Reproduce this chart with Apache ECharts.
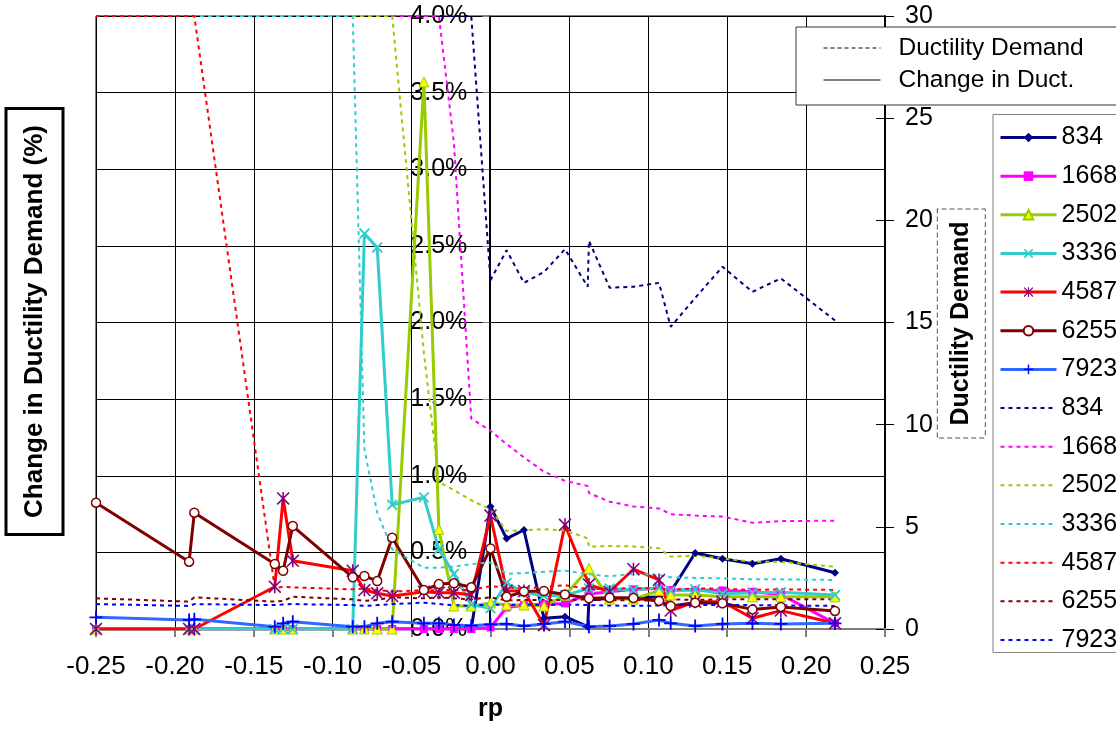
<!DOCTYPE html>
<html><head><meta charset="utf-8">
<script src="https://cdn.jsdelivr.net/npm/echarts@6/dist/echarts.min.js"></script>
<style>html,body{margin:0;padding:0;background:#fff}#c{width:1116px;height:731px}</style>
</head><body><div id="c"></div>
<script>
// rp values (shared x grid)
const rp = [-0.25,-0.191,-0.1877,-0.1367,-0.1314,-0.1253,-0.0873,-0.0799,-0.0718,-0.0623,
  -0.0422,-0.0327,-0.0232,-0.0122,0,0.0102,0.0212,0.0339,0.0472,0.0616,
  0.0624,0.0755,0.0906,0.1068,0.1142,0.1297,0.147,0.166,0.184,0.2183];

// Change in ductility demand (%), left axis
const chg834  = [0,0,0,0,0,0,0,0,0,0,0,0,0,0,0.80,0.59,0.646,0.07,0.08,0.015,0.19,0.2,0.2,0.211,0.243,0.496,0.458,0.426,0.458,0.367];
const chg1668 = [0,0,0,0,0,0,0,0,0,0,0,0,0,0,0.01,0.14,0.155,0.162,0.167,null,0.228,0.243,0.259,0.265,0.254,0.254,0.252,0.243,0.225,0.037];
const chg2502 = [0,0,0,0,0,0,0,0,0,0,3.57,0.65,0.15,0.15,0.17,0.157,0.157,0.15,0.22,null,0.395,0.195,0.195,0.25,0.222,0.222,0.21,0.21,0.21,0.21];
const chg3336 = [0,0,0,0,0,0,0,2.58,2.49,0.81,0.86,0.52,0.36,0.16,0.135,0.3,0.24,0.215,0.22,null,0.265,0.265,0.254,0.27,0.25,0.26,0.23,0.237,0.24,0.222];
const chg4587 = [0,0,0,0.276,0.852,0.445,0.38,0.254,0.233,0.215,0.243,0.237,0.237,0.222,0.74,0.25,0.248,0.025,0.68,null,0.29,0.243,0.39,0.32,0.12,0.178,0.178,0.07,0.12,0.037];
const chg6255 = [0.824,0.439,0.759,0.424,0.38,0.672,0.337,0.346,0.313,0.596,0.254,0.293,0.298,0.272,0.526,0.21,0.245,0.248,0.225,null,0.2,0.204,0.202,0.183,0.15,0.172,0.168,0.128,0.144,0.118];
const chg7923 = [0.076,0.059,0.063,0.015,0.037,0.048,0.015,0.015,0.037,0.048,0.037,0.037,0.026,0.022,0.03,0.033,0.02,0.033,0.048,null,0.015,0.02,0.033,0.059,0.037,0.02,0.033,0.037,0.033,0.037];

// Ductility demand, right axis
const dd834  = [30,30,30,30,30,30,30,30,30,30,30,30,30,30,17.07,18.54,16.94,17.47,18.59,16.75,19.0,16.7,16.75,16.94,14.79,16.2,17.73,16.5,17.16,15.1];
const dd1668 = [30,30,30,30,30,30,30,30,30,30,30,30,23.8,10.3,9.7,9.05,8.4,7.7,7.25,7.0,6.65,6.23,6.0,5.9,5.62,5.55,5.5,5.2,5.28,5.3];
const dd2502 = [30,30,30,30,30,30,30,30,30,30,13.5,7.2,6.8,6.3,5.85,4.8,4.84,4.88,4.82,4.44,4.03,4.06,4.04,3.95,3.54,3.58,3.45,3.29,3.29,3.05];
const dd3336 = [30,30,30,30,30,30,30,8.8,5.7,3.9,3.0,3.0,3.05,3.18,3.25,2.7,2.74,2.8,2.86,null,2.68,2.58,2.7,2.64,2.53,2.5,2.48,2.43,2.43,2.4];
const dd4587 = [30,30,30,2.0,2.07,2.04,1.94,1.97,1.91,1.83,1.9,1.9,1.91,1.91,2.1,2.02,2.0,2.05,2.15,null,1.94,1.97,2.0,1.99,1.91,1.99,1.97,1.91,1.94,1.91];
const dd6255 = [1.5,1.34,1.55,1.34,1.38,1.58,1.45,1.38,1.42,1.55,1.5,1.55,1.5,1.45,1.55,1.4,1.42,1.42,1.42,null,1.45,1.4,1.42,1.37,1.45,1.42,1.45,1.45,1.45,1.45];
const dd7923 = [1.22,1.13,1.22,1.17,1.2,1.22,1.17,1.13,1.17,1.22,1.29,1.22,1.17,1.13,1.2,1.17,1.2,1.17,1.2,null,1.17,1.15,1.13,1.15,1.17,1.17,1.17,1.17,1.15,1.13];

const seriesNames = ['834','1668','2502','3336','4587','6255','7923'];
const leftTicks = {min:0, max:4, interval:0.5};
const rightTicks = {min:0, max:30, interval:5};

const FONT = "'Liberation Sans', Arial, sans-serif";
const pairs = ys => rp.map((x,i)=>[x, ys[i]]).filter(p => p[1] !== null);

const X_PATH = 'path://M0,1.2L1.2,0L5,3.8L8.8,0L10,1.2L6.2,5L10,8.8L8.8,10L5,6.2L1.2,10L0,8.8L3.8,5Z';
const STAR_PATH = 'path://M4.4,0L5.6,0L5.6,10L4.4,10Z M0,0.85L0.85,0L10,9.15L9.15,10Z M9.15,0L10,0.85L0.85,10L0,9.15Z';
const PLUS_PATH = 'path://M4.3,0L5.7,0L5.7,4.3L10,4.3L10,5.7L5.7,5.7L5.7,10L4.3,10L4.3,5.7L0,5.7L0,4.3L4.3,4.3Z';

const solidDefs = [
  {data: chg834,  line:'#000080', symbol:'diamond', size:8,  item:{color:'#000080'}},
  {data: chg1668, line:'#FF00FF', symbol:'rect',    size:8,  item:{color:'#FF00FF'}},
  {data: chg2502, line:'#99CC00', symbol:'triangle',size:10, item:{color:'#FFFF00', borderColor:'#99CC00', borderWidth:1}},
  {data: chg3336, line:'#33CCCC', symbol:X_PATH,    size:11, item:{color:'#33CCCC'}},
  {data: chg4587, line:'#FF0000', symbol:STAR_PATH, size:13, item:{color:'#800080'}},
  {data: chg6255, line:'#800000', symbol:'circle',  size:9,  item:{color:'#FFFFFF', borderColor:'#800000', borderWidth:1.5}},
  {data: chg7923, line:'#3366FF', symbol:PLUS_PATH, size:13, item:{color:'#0000FF'}}
];
const dashDefs = [
  {data: dd834,  color:'#000080'},
  {data: dd1668, color:'#FF00FF'},
  {data: dd2502, color:'#99CC00'},
  {data: dd3336, color:'#33CCCC'},
  {data: dd4587, color:'#FF0000'},
  {data: dd6255, color:'#800000'},
  {data: dd7923, color:'#0000FF'}
];

const series = [];
solidDefs.forEach((d,i) => series.push({
  name: seriesNames[i], type:'line', xAxisIndex:0, yAxisIndex:0,
  data: pairs(d.data), symbol: d.symbol, symbolSize: d.size, showSymbol:true,
  itemStyle: d.item, lineStyle:{color:d.line, width:3}, emphasis:{disabled:true}
}));
dashDefs.forEach((d,i) => series.push({
  name: seriesNames[i] + ' DD', type:'line', xAxisIndex:0, yAxisIndex:1,
  data: pairs(d.data), symbol:'none', showSymbol:false,
  itemStyle:{color:d.color}, lineStyle:{color:d.color, width:2, type:[4,4]}, emphasis:{disabled:true}
}));
series.push({name:'Ductility Demand', type:'line', yAxisIndex:1, data:[], symbol:'none',
  itemStyle:{color:'#000'}, lineStyle:{color:'#000', width:1, type:[4,3]}});
series.push({name:'Change in Duct.', type:'line', yAxisIndex:0, data:[], symbol:'none',
  itemStyle:{color:'#000'}, lineStyle:{color:'#000', width:1}});

const noMarker = {opacity:0};
const chart = echarts.init(document.getElementById('c'), null, {renderer:'canvas'});
chart.setOption({
  animation:false,
  backgroundColor:'#fff',
  textStyle:{fontFamily:FONT, color:'#000'},
  grid:{left:96, top:16, width:789, height:613, show:true, borderColor:'#000', borderWidth:1,
        containLabel:false, outerBoundsMode:'none'},
  xAxis:{type:'value', min:-0.25, max:0.25, interval:0.05,
    axisLine:{show:true, lineStyle:{color:'#808080', width:2}},
    axisTick:{show:true, length:8, lineStyle:{color:'#808080', width:2}},
    axisLabel:{fontSize:26, color:'#000', margin:25, showMinLabel:true, showMaxLabel:true,
      formatter: v => (Math.abs(v) < 1e-9 ? 0 : v).toFixed(2)},
    splitLine:{show:true, lineStyle:{color:'#000', width:1}},
    name:'rp', nameLocation:'middle', nameGap:68,
    nameTextStyle:{fontSize:25, fontWeight:'bold', color:'#000'}},
  yAxis:[
    {type:'value', position:'left', offset:-393.3, min:leftTicks.min, max:leftTicks.max, interval:leftTicks.interval,
     axisLine:{show:true, onZero:false, lineStyle:{color:'#000', width:1}},
     axisTick:{show:true, length:7, lineStyle:{color:'#808080'}},
     axisLabel:{fontSize:25, color:'#000', margin:22, showMinLabel:true, showMaxLabel:true,
       formatter: v => v.toFixed(1) + '%'},
     splitLine:{show:true, lineStyle:{color:'#000', width:1}}},
    {type:'value', position:'right', min:rightTicks.min, max:rightTicks.max, interval:rightTicks.interval,
     axisLine:{show:true, onZero:false, lineStyle:{color:'#000', width:2}},
     axisTick:{show:true, length:9, lineStyle:{color:'#000'}},
     axisLabel:{fontSize:25, color:'#000', margin:20, showMinLabel:true, showMaxLabel:true},
     splitLine:{show:false}},
    {type:'value', position:'right', min:rightTicks.min, max:rightTicks.max, interval:rightTicks.interval,
     axisLine:{show:false, onZero:false},
     axisTick:{show:true, inside:true, length:9, lineStyle:{color:'#000'}},
     axisLabel:{show:false}, splitLine:{show:false}}
  ],
  legend:[
    {data:[{name:'Ductility Demand', itemStyle:noMarker},{name:'Change in Duct.', itemStyle:noMarker}],
     orient:'vertical', left:796, top:27,
     itemWidth:57, itemHeight:10, itemGap:6, padding:[8,60,12,27], selectedMode:false,
     borderColor:'#333', borderWidth:1, backgroundColor:'#fff',
     lineStyle:{width:'inherit'},
     textStyle:{fontSize:24.5, lineHeight:26, color:'#000', fontFamily:FONT, padding:[0,0,0,13]}},
    {data: seriesNames.map(n => ({name:n})).concat(seriesNames.map(n => ({name:n + ' DD', itemStyle:noMarker}))),
     orient:'vertical', left:993, top:114.5,
     itemWidth:56, itemHeight:12, itemGap:13.65, padding:[10.5,60,0,6], selectedMode:false,
     borderColor:'#808080', borderWidth:1, backgroundColor:'#fff',
     lineStyle:{width:'inherit'},
     formatter: n => n.replace(' DD',''),
     textStyle:{fontSize:25, color:'#000', fontFamily:FONT}}
  ],
  graphic:[
    {type:'text', x:34.5, y:321.5, rotation:Math.PI/2, z:100,
     style:{text:'Change in Ductility Demand (%)', font:"bold 26px " + FONT, fill:'#000',
       align:'center', verticalAlign:'middle', textAlign:'center', textVerticalAlign:'middle',
       borderColor:'#000', borderWidth:3, padding:[14,15], backgroundColor:'#fff'}},
    {type:'text', x:961.3, y:323.5, rotation:Math.PI/2, z:100,
     style:{text:'Ductility Demand', font:"bold 25px " + FONT, fill:'#000',
       align:'center', verticalAlign:'middle', textAlign:'center', textVerticalAlign:'middle',
       borderColor:'#555', borderWidth:1, borderDash:[5,3], padding:[11,12], backgroundColor:'#fff'}}
  ],
  series: series
});
</script>
</body></html>
